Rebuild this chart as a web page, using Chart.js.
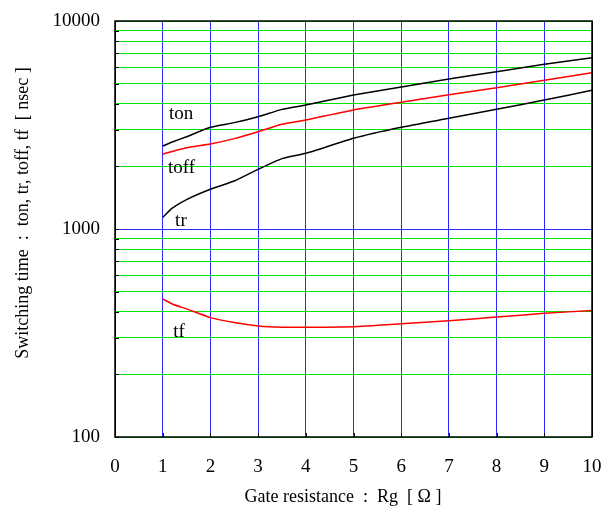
<!DOCTYPE html>
<html>
<head>
<meta charset="utf-8">
<script src="https://cdn.jsdelivr.net/npm/chart.js@4.4.1/dist/chart.umd.min.js"></script>
<style>
  html, body { margin: 0; padding: 0; background: #fff; }
  #wrap { width: 603px; height: 511px; }
</style>
</head>
<body>
<div id="wrap"><canvas id="swChart" width="603" height="511"></canvas></div>
<script>
// gate resistance Rg [ohm]
const rg = [1, 1.2, 1.5, 2, 2.5, 3, 3.5, 4, 5, 6, 7, 8, 9, 10];
// switching times [nsec]
const ton = [2506, 2620, 2778, 3083, 3246, 3467, 3760, 3948, 4406, 4816, 5265, 5706, 6194, 6665];
const toff = [2294, 2360, 2460, 2564, 2720, 2937, 3187, 3342, 3735, 4067, 4424, 4779, 5188, 5646];
const tr = [1138, 1260, 1385, 1552, 1700, 1936, 2180, 2312, 2729, 3083, 3404, 3763, 4169, 4645];
const tf = [461, 436, 413, 375, 355, 342, 337, 337, 339, 350, 362, 377, 393, 406];

const yTicks = [100, 200, 300, 400, 500, 600, 700, 800, 900,
  1000, 2000, 3000, 4000, 5000, 6000, 7000, 8000, 9000, 10000];
const yLabels = [100, 1000, 10000];

// curve names: [text, x, y]
const curveLabels = [["ton", 1.13, 3571], ["toff", 1.11, 1954], ["tr", 1.26, 1093], ["tf", 1.22, 321]];

const serif = "'Liberation Serif', 'Times New Roman', serif";

function pts(vals) {
  return rg.map((x, i) => ({ x: x, y: vals[i] }));
}

const extras = {
  id: "extras",
  afterDatasetsDraw(chart) {
    const { ctx, chartArea: a, scales } = chart;
    const xs = scales.x, ys = scales.y;
    ctx.save();
    // frame
    ctx.strokeStyle = "#000";
    ctx.lineWidth = 1.5;
    ctx.strokeRect(a.left, a.top, a.right - a.left, a.bottom - a.top);
    // inward ticks
    ctx.lineWidth = 1;
    yTicks.forEach(v => {
      const y = Math.round(ys.getPixelForValue(v)) + 0.5;
      ctx.beginPath(); ctx.moveTo(a.left, y); ctx.lineTo(a.left + 4, y); ctx.stroke();
    });
    for (let i = 0; i <= 10; i++) {
      const x = Math.round(xs.getPixelForValue(i)) + 0.5;
      ctx.beginPath(); ctx.moveTo(x, a.bottom); ctx.lineTo(x, a.bottom - 4); ctx.stroke();
    }
    // curve labels
    ctx.fillStyle = "#000";
    ctx.font = "19px " + serif;
    ctx.textAlign = "left";
    ctx.textBaseline = "middle";
    curveLabels.forEach(l => {
      ctx.fillText(l[0], xs.getPixelForValue(l[1]), ys.getPixelForValue(l[2]));
    });
    // axis titles
    ctx.font = "18px " + serif;
    ctx.textAlign = "center";
    ctx.fillText("Gate resistance  :  Rg  [ \u03A9 ]", 343, 497);
    ctx.translate(23, 213);
    ctx.rotate(-Math.PI / 2);
    ctx.fillText("Switching time  :  ton, tr, toff, tf  [ nsec ]", 0, 0);
    ctx.restore();
  }
};

new Chart(document.getElementById("swChart"), {
  type: "line",
  data: {
    datasets: [
      { label: "ton", data: pts(ton), borderColor: "#000000" },
      { label: "toff", data: pts(toff), borderColor: "#ff0000" },
      { label: "tr", data: pts(tr), borderColor: "#000000" },
      { label: "tf", data: pts(tf), borderColor: "#ff0000" }
    ]
  },
  options: {
    responsive: false,
    animation: false,
    layout: { padding: { top: 21, right: 11, left: 0, bottom: 0 } },
    elements: {
      point: { radius: 0 },
      line: { borderWidth: 1.5, tension: 0.15, fill: false }
    },
    plugins: { legend: { display: false }, tooltip: { enabled: false } },
    scales: {
      x: {
        type: "linear",
        min: 0,
        max: 10,
        afterFit: s => { s.height = 74; s.paddingLeft = 0; s.paddingRight = 0; },
        ticks: {
          stepSize: 1,
          padding: 19,
          color: "#000",
          font: { family: serif, size: 19 }
        },
        grid: {
          drawTicks: false,
          lineWidth: 1,
          color: c => (c.tick.value === 0 || c.tick.value === 10) ? "#000" : "#2a2aff"
        },
        border: { display: false }
      },
      y: {
        type: "logarithmic",
        min: 100,
        max: 10000,
        afterFit: s => { s.width = 115; s.paddingTop = 0; s.paddingBottom = 0; },
        afterBuildTicks: s => { s.ticks = yTicks.map(v => ({ value: v })); },
        ticks: {
          padding: 15,
          color: "#000",
          font: { family: serif, size: 19 },
          autoSkip: false,
          callback: v => yLabels.includes(v) ? String(v) : ""
        },
        grid: {
          drawTicks: false,
          lineWidth: 1,
          color: c => c.tick.value === 1000 ? "#2a2aff" : "#00e600"
        },
        border: { display: false }
      }
    }
  },
  plugins: [extras]
});
</script>
</body>
</html>
